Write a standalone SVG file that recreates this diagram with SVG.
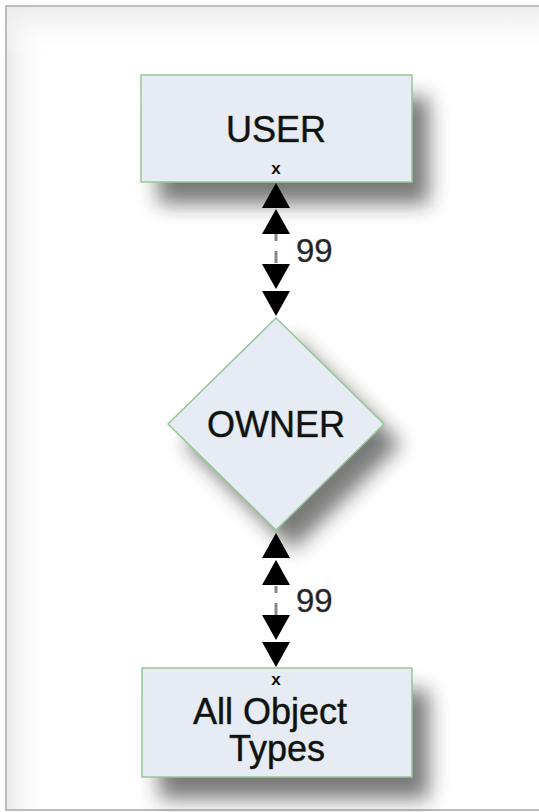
<svg xmlns="http://www.w3.org/2000/svg" width="539" height="812" viewBox="0 0 539 812">
<defs>
<filter id="sh" x="-30%" y="-30%" width="170%" height="170%">
<feGaussianBlur stdDeviation="10"/>
</filter>
<linearGradient id="gl" x1="0" y1="0" x2="1" y2="0">
<stop offset="0" stop-color="#e9e9e9"/>
<stop offset="1" stop-color="#ffffff" stop-opacity="0"/>
</linearGradient>
<linearGradient id="gt" x1="0" y1="0" x2="0" y2="1">
<stop offset="0" stop-color="#ececec"/>
<stop offset="1" stop-color="#ffffff" stop-opacity="0"/>
</linearGradient>
<path id="up" d="M0,0 L14,25 L-14,25 Z"/>
<path id="dn" d="M0,0 L14,-25 L-14,-25 Z"/>
</defs>
<style>
.node{fill:#e7ebf4;stroke:#94c894;stroke-width:1.5}
.shadow{fill:#222;opacity:0.6;filter:url(#sh)}
.t{font-family:"Liberation Sans",Arial,sans-serif;font-size:36px;fill:#111;text-anchor:middle;stroke:#4a6a4a;stroke-width:0.6;paint-order:stroke}
.x{font-family:"Liberation Sans",Arial,sans-serif;font-size:17px;font-weight:bold;fill:#111;text-anchor:middle}
.lbl{font-family:"Liberation Sans",Arial,sans-serif;font-size:33px;fill:#222;stroke:#555;stroke-width:0.4}
.ln{stroke:#888;stroke-width:3}
.ah{fill:#000}
</style>
<rect x="0" y="0" width="539" height="812" fill="#fff"/>
<rect x="6" y="6" width="540" height="804" fill="#fff" stroke="#bdbdbd" stroke-width="2"/>
<rect x="7" y="7" width="40" height="802" fill="url(#gl)"/>
<rect x="7" y="7" width="532" height="50" fill="url(#gt)"/>

<g id="user">
<rect class="shadow" x="158" y="97" width="271" height="107"/>
<rect class="node" x="141" y="75" width="271" height="107"/>
<text class="t" x="276" y="142">USER</text>
<text class="x" x="276" y="174">x</text>
</g>

<g id="owner">
<polygon class="shadow" points="293,338 401,444 293,550 185,444"/>
<polygon class="node" points="276,318 384,424 276,530 168,424"/>
<text class="t" x="276" y="437">OWNER</text>
</g>

<g id="all-object-types">
<rect class="shadow" x="159" y="690" width="270" height="109"/>
<rect class="node" x="142" y="668" width="270" height="109"/>
<text class="x" x="276" y="685">x</text>
<text class="t" x="270" y="724">All Object</text>
<text class="t" x="277" y="761">Types</text>
</g>

<g id="connectors">
<line class="ln" x1="276" y1="234" x2="276" y2="241"/>
<line class="ln" x1="276" y1="251" x2="276" y2="263"/>
<use href="#up" class="ah" x="276" y="183"/>
<use href="#up" class="ah" x="276" y="209"/>
<use href="#dn" class="ah" x="276" y="289"/>
<use href="#dn" class="ah" x="276" y="316"/>
<text class="lbl" x="296" y="262">99</text>

<line class="ln" x1="276" y1="586" x2="276" y2="593"/>
<line class="ln" x1="276" y1="603" x2="276" y2="615"/>
<use href="#up" class="ah" x="276" y="533"/>
<use href="#up" class="ah" x="276" y="560"/>
<use href="#dn" class="ah" x="276" y="640"/>
<use href="#dn" class="ah" x="276" y="667"/>
<text class="lbl" x="296" y="612">99</text>
</g>
</svg>
